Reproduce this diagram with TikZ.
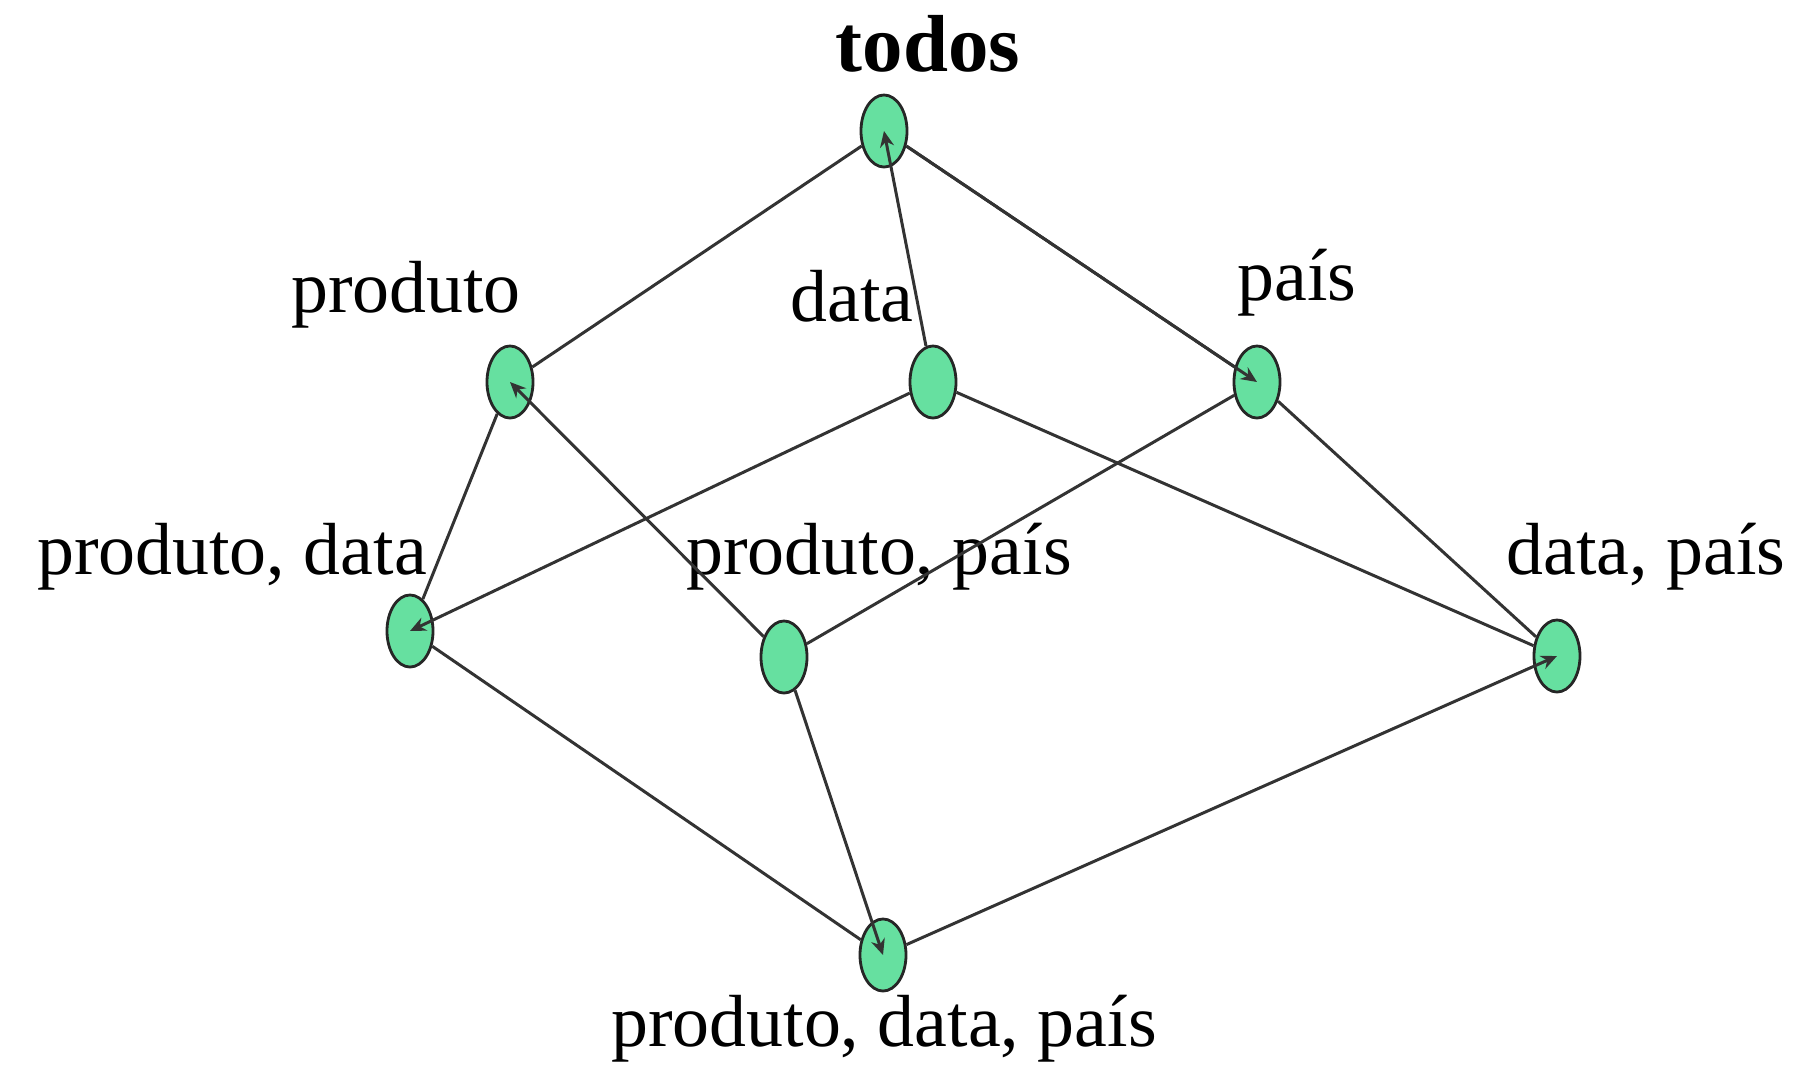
\documentclass[tikz,border=0pt]{standalone}
\usepackage{fontspec}
\setmainfont{Liberation Serif}
\usetikzlibrary{arrows.meta}
\usetikzlibrary{shapes.geometric}
\definecolor{cubegreen}{RGB}{102,224,160}
\definecolor{edgegray}{gray}{0.2}
\tikzstyle{cuboid}=[ellipse,draw=black!85,fill=cubegreen,line width=0.8pt,minimum width=0.46cm,minimum height=0.72cm,inner sep=0pt]
\tikzstyle{cubelabel}=[anchor=base,inner sep=0pt,font=\fontsize{21}{25}\selectfont]
\tikzstyle{rollup}=[edgegray,line width=0.85pt]
\tikzstyle{rolluptip}=[rollup,-{Stealth[length=4.5pt,width=4pt]}]
\newcommand{\cuboidnode}[4]{% name, ellipse position, label position, label text
	\node[cuboid] (#1) at (#2) {};
	\node[cubelabel] (#1-lbl) at (#3) {#4};
}

\begin{document}
\begin{tikzpicture}[x=0.01cm,y=-0.01cm]
\useasboundingbox (0,0) rectangle (1799,1066);
% top: all dimensions aggregated
\cuboidnode{all}{884,131}{928,71}{\fontsize{23}{27}\selectfont\textbf{todos}}
% one dimension
\cuboidnode{p}{510,382}{406,312}{produto}
\cuboidnode{d}{933,382}{852,321}{data}
\cuboidnode{c}{1257,382}{1297,300}{país}
% two dimensions
\cuboidnode{pd}{410,631}{232,574}{produto, data}
\cuboidnode{pc}{784,657}{879,574}{produto, país}
\cuboidnode{dc}{1557,656}{1646,574}{data, país}
% base cuboid
\cuboidnode{pdc}{883,955}{884,1046}{produto, data, país}
% lattice edges
\draw[rollup] (all) -- (p);
\draw[rolluptip] (d) -- (all.center);
\draw[rollup] (all) -- (c);
\draw[rollup] (p) -- (pd);
\draw[rolluptip] (pc) -- (p.center);
\draw[rolluptip] (d) -- (pd.center);
\draw[rollup] (d) -- (dc);
\draw[rolluptip] (all) -- (c.center);
\draw[rollup] (c) -- (pc);
\draw[rollup] (c) -- (dc);
\draw[rollup] (pd) -- (pdc);
\draw[rolluptip] (pc) -- (pdc.center);
\draw[rolluptip] (pdc) -- (dc.center);
\end{tikzpicture}
\end{document}
